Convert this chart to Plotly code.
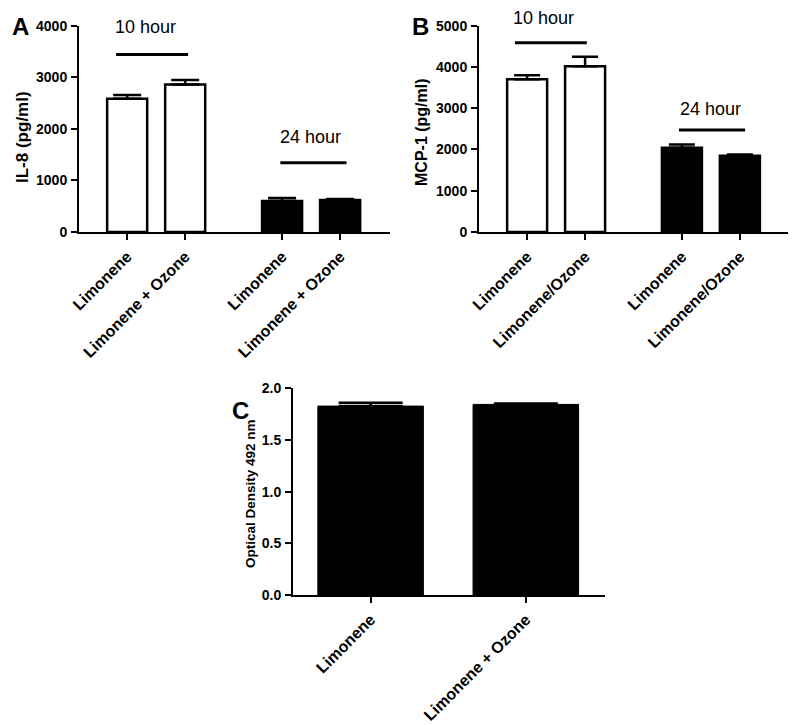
import plotly.graph_objects as go

# ---------------- data ----------------
il8_labels = ["Limonene", "Limonene + Ozone", "Limonene", "Limonene + Ozone"]
il8_mean = [2583, 2862, 601, 620]
il8_err = [72, 84, 58, 20]

mcp_labels = ["Limonene", "Limonene/Ozone", "Limonene", "Limonene/Ozone"]
mcp_mean = [3705, 4020, 2041, 1848]
mcp_err = [95, 225, 82, 32]

od_labels = ["Limonene", "Limonene + Ozone"]
od_mean = [1.828, 1.844]
od_err = [0.032, 0.009]

group_names = ["10 hour", "24 hour"]

# ---------------- layout helpers ----------------
FONT = "Arial, Liberation Sans, sans-serif"
pos4 = [1, 2, 3.67, 4.67]
fills4 = ["white", "white", "black", "black"]

W, H = 800, 725

def px_x(p):
    return p / W

def px_y(p):
    return 1 - p / H

fig = go.Figure()

fig.add_trace(go.Bar(
    x=pos4, y=il8_mean, width=0.69,
    marker=dict(color=fills4, line=dict(color="black", width=2.5)),
    error_y=dict(type="data", array=il8_err, arrayminus=[0]*4, symmetric=False,
                 color="black", thickness=2.5, width=14),
    xaxis="x", yaxis="y", showlegend=False, hoverinfo="skip"))

fig.add_trace(go.Bar(
    x=pos4, y=mcp_mean, width=0.69,
    marker=dict(color=fills4, line=dict(color="black", width=2.5)),
    error_y=dict(type="data", array=mcp_err, arrayminus=[0]*4, symmetric=False,
                 color="black", thickness=2.5, width=13),
    xaxis="x2", yaxis="y2", showlegend=False, hoverinfo="skip"))

fig.add_trace(go.Bar(
    x=[0, 1], y=od_mean, width=0.68,
    marker=dict(color="black", line=dict(color="black", width=1)),
    error_y=dict(type="data", array=od_err, arrayminus=[0]*2, symmetric=False,
                 color="black", thickness=2.5, width=32),
    xaxis="x3", yaxis="y3", showlegend=False, hoverinfo="skip"))

axis_common = dict(showgrid=False, zeroline=False, showline=True, linewidth=2,
                   linecolor="black", ticks="outside", ticklen=6, tickwidth=2,
                   tickcolor="black", ticklabelstandoff=1, automargin=False)
xfont = dict(family=FONT, size=16, color="black", weight="bold")
yfont = dict(family=FONT, size=14, color="black", weight="bold")

ydomA = [px_y(232), px_y(25.7)]
ydomC = [px_y(595), px_y(388.3)]

fig.update_layout(
    width=W, height=H, margin=dict(l=0, r=0, t=0, b=0, autoexpand=False),
    paper_bgcolor="white", plot_bgcolor="white",
    xaxis=dict(domain=[px_x(79), px_x(390)], range=[0.17, 5.53], anchor="y",
               tickvals=pos4, ticktext=il8_labels, tickangle=-45, tickfont=xfont,
               **axis_common),
    yaxis=dict(domain=ydomA, range=[0, 4000], dtick=1000, anchor="x",
               tickfont=yfont, **axis_common),
    xaxis2=dict(domain=[px_x(479), px_x(788)], range=[0.17, 5.5], anchor="y2",
                tickvals=pos4, ticktext=mcp_labels, tickangle=-45, tickfont=xfont,
                **axis_common),
    yaxis2=dict(domain=ydomA, range=[0, 5000], dtick=1000, anchor="x2",
                tickfont=yfont, **axis_common),
    xaxis3=dict(domain=[px_x(293), px_x(605)], range=[-0.5, 1.51], anchor="y3",
                tickvals=[0, 1], ticktext=od_labels, tickangle=-45, tickfont=xfont,
                **axis_common),
    yaxis3=dict(domain=ydomC, range=[0, 2.0], dtick=0.5, tickformat=".1f",
                anchor="x3", tickfont=yfont, **axis_common),
)

# group bracket lines and labels (label y given in axis-domain fraction)
brackets = [
    # xaxis, yaxis, x0, x1, line y (data), label x (data), label y (domain frac), label
    ("x", "y", 0.81, 2.05, 3444, 1.31, 0.993, group_names[0]),
    ("x", "y", 3.64, 4.78, 1343, 4.16, 0.46, group_names[1]),
    ("x2", "y2", 0.79, 2.03, 4584, 1.28, 1.036, group_names[0]),
    ("x2", "y2", 3.62, 4.76, 2470, 4.16, 0.596, group_names[1]),
]
for xr, yr, x0, x1, yv, lx, ly, lab in brackets:
    fig.add_shape(type="line", xref=xr, yref=yr, x0=x0, x1=x1, y0=yv, y1=yv,
                  line=dict(color="black", width=3))
    fig.add_annotation(xref=xr, yref=yr + " domain", x=lx, y=ly, text=lab,
                       showarrow=False, yanchor="middle",
                       font=dict(family=FONT, size=18, color="black"))

# y-axis titles
ytitles = [
    ("IL-8 (pg/ml)", 22, 137, 17),
    ("MCP-1 (pg/ml)", 421, 132, 16),
    ("Optical Density 492 nm", 250, 494, 13.5),
]
for txt, xp, yp, fs in ytitles:
    fig.add_annotation(xref="paper", yref="paper", x=px_x(xp), y=px_y(yp),
                       text=txt, textangle=-90, showarrow=False,
                       xanchor="center", yanchor="middle",
                       font=dict(family=FONT, size=fs, color="black", weight="bold"))

# panel letters
for letter, xp, yp in [("A", 20, 27), ("B", 420, 27), ("C", 240, 410)]:
    fig.add_annotation(xref="paper", yref="paper", x=px_x(xp), y=px_y(yp),
                       text=letter, showarrow=False, xanchor="center", yanchor="middle",
                       font=dict(family=FONT, size=24, color="black", weight="bold"))

fig.write_html(
    "out.html",
    config={"displayModeBar": False},
    post_script="document.body.style.margin='0';document.body.style.padding='0';",
)
